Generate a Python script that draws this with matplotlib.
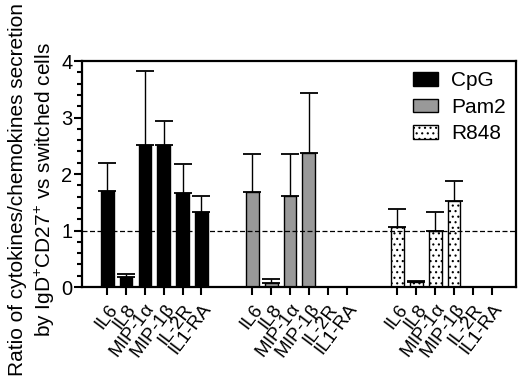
import matplotlib
matplotlib.use("Agg")
import matplotlib.pyplot as plt
import numpy as np
from matplotlib.ticker import MultipleLocator

plt.rcParams["font.family"] = ["Liberation Sans", "DejaVu Sans"]
plt.rcParams["mathtext.default"] = "regular"
plt.rcParams["hatch.linewidth"] = 0.8

markers = ["IL6", "IL8", r"MIP-1$\alpha$", r"MIP-1$\beta$", "IL-2R", "IL1-RA"]
groups = ["CpG", "Pam2", "R848"]
cpg = [1.70, 0.17, 2.51, 2.51, 1.67, 1.32]
cpg_err = [0.49, 0.07, 1.31, 0.43, 0.50, 0.29]
pam2 = [1.68, 0.07, 1.62, 2.38, 0, 0]
pam2_err = [0.67, 0.07, 0.73, 1.05, 0, 0]
r848 = [1.07, 0.09, 1.00, 1.52, 0, 0]
r848_err = [0.32, 0.01, 0.32, 0.36, 0, 0]

values = [cpg, pam2, r848]
errors = [cpg_err, pam2_err, r848_err]
styles = [
    dict(color="black", hatch=None),
    dict(color="#999999", hatch=None),
    dict(color="white", hatch="..."),
]

fig = plt.figure(figsize=(5.2, 3.89), dpi=100)
ax = fig.add_axes([0.158, 0.262, 0.834, 0.581])

group_step = 7.7
ticks, labels = [], []
for g, (name, vals, errs, st) in enumerate(zip(groups, values, errors, styles)):
    x = g * group_step + np.arange(len(markers))
    ax.bar(x, vals, width=0.68, color=st["color"], edgecolor="black",
           linewidth=1.0, hatch=st["hatch"], label=name, zorder=2)
    yerr = np.array([np.zeros(len(errs)), errs])
    keep = np.array(vals) > 0
    ax.errorbar(x[keep], np.array(vals)[keep], yerr=yerr[:, keep], fmt="none",
                ecolor="black", elinewidth=1.0, capsize=6.5, capthick=1.3, zorder=1)
    ticks.extend(x)
    labels.extend(markers)

ax.axhline(1, color="black", linestyle="--", linewidth=0.9, dashes=(4, 2), zorder=3)

ax.set_xlim(-1.33, 2 * group_step + 5 + 1.28)
ax.set_ylim(0, 4)
ax.yaxis.set_major_locator(MultipleLocator(1))
ax.yaxis.set_minor_locator(MultipleLocator(0.2))
ax.set_xticks(ticks)
ax.set_xticklabels(labels, rotation=53, ha="right", rotation_mode="anchor", fontsize=13.5)
ax.tick_params(axis="both", which="major", direction="out", length=6, width=1.5)
ax.tick_params(axis="y", which="minor", direction="out", length=3.5, width=1.5)
ax.tick_params(axis="y", labelsize=14.5, pad=1)
ax.tick_params(axis="x", pad=4)
for s in ax.spines.values():
    s.set_linewidth(1.6)

ax.set_ylabel("Ratio of cytokines/chemokines secretion\nby IgD$^{+}$CD27$^{+}$ vs switched cells",
              fontsize=15, linespacing=1.35)
ax.yaxis.set_label_coords(-0.058, 0.43)

leg = ax.legend(loc="upper right", frameon=False, fontsize=15, handlelength=1.2,
                handleheight=0.65, handletextpad=0.6, labelspacing=0.35,
                borderaxespad=0.1)

fig.savefig("out.png", dpi=100)
